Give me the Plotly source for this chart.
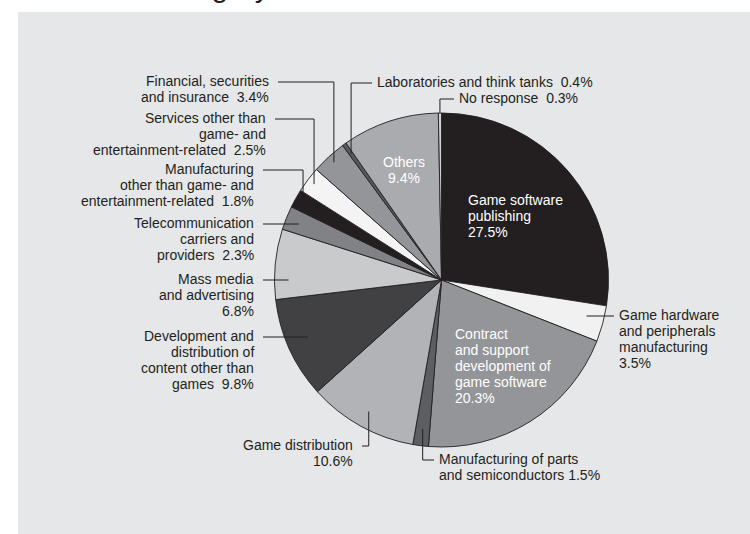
import math
import plotly.graph_objects as go

# Survey respondents by business category (share of respondents, %)
categories = [
    "Game software publishing",
    "Game hardware and peripherals manufacturing",
    "Contract and support development of game software",
    "Manufacturing of parts and semiconductors",
    "Game distribution",
    "Development and distribution of content other than games",
    "Mass media and advertising",
    "Telecommunication carriers and providers",
    "Manufacturing other than game- and entertainment-related",
    "Services other than game- and entertainment-related",
    "Financial, securities and insurance",
    "Laboratories and think tanks",
    "Others",
    "No response",
]
shares = [27.5, 3.5, 20.3, 1.5, 10.6, 9.8, 6.8, 2.3, 1.8, 2.5, 3.4, 0.4, 9.4, 0.3]
slice_colors = [
    "#231f20", "#f1f1f2", "#939598", "#5d5e61", "#b1b3b6", "#414042", "#c9cacc",
    "#808285", "#231f20", "#f4f4f5", "#939598", "#58595b", "#a9abae", "#d1d3d4",
]
# Label text per slice; "{}" receives the share
label_lines = [
    ["Game software", "publishing", "{}%"],
    ["Game hardware", "and peripherals", "manufacturing", "{}%"],
    ["Contract", "and support", "development of", "game software", "{}%"],
    ["Manufacturing of parts", "and semiconductors {}%"],
    ["Game distribution", "{}%"],
    ["Development and", "distribution of", "content other than", "games\u00a0 {}%"],
    ["Mass media", "and advertising", "{}%"],
    ["Telecommunication", "carriers and", "providers\u00a0 {}%"],
    ["Manufacturing", "other than game- and", "entertainment-related\u00a0 {}%"],
    ["Services other than", "game- and", "entertainment-related\u00a0 {}%"],
    ["Financial, securities", "and insurance\u00a0 {}%"],
    ["Laboratories and think tanks\u00a0 {}%"],
    ["Others", "{}%"],
    ["No response\u00a0 {}%"],
]

W, H = 750, 534
CX, CY, R = 441.5, 280.0, 167.0
INK = "#231f20"
FONT = "Liberation Sans, Arial, sans-serif"
LINE_H = 16.0

# placement: (x, y of first line, anchor, placement kind, leader style, leader radius fraction)
placement = [
    (466, 200, "left", "inside", None, None),
    (617, 315, "left", "outside", "h", 0.90),
    (453, 334, "left", "inside", None, None),
    (437, 459, "left", "outside", "v", 0.90),
    (355, 445, "right", "outside", "v", 0.90),
    (256, 336, "right", "outside", "h", 0.88),
    (256, 279, "right", "outside", "h", 0.92),
    (256, 223, "right", "outside", "h", 0.92),
    (256, 169, "right", "outside", "v", 0.95),
    (268, 118, "right", "outside", "v", 0.955),
    (271, 81, "right", "outside", "v", 0.955),
    (375, 82, "left", "outside", "v", 0.93),
    (404, 162, "center", "inside", None, None),
    (457, 98, "left", "outside", "v", 1.0),
]


def px(x):
    return x / W


def py(y):
    return 1 - y / H


fig = go.Figure(
    go.Pie(
        labels=categories,
        values=shares,
        sort=False,
        direction="clockwise",
        rotation=0,
        marker=dict(colors=slice_colors, line=dict(color=INK, width=0.9)),
        textinfo="none",
        hoverinfo="label+percent",
        showlegend=False,
        domain=dict(x=[px(CX - R), px(CX + R)], y=[py(CY + R), py(CY - R)]),
    )
)

annotations = []
shapes = [
    dict(type="rect", xref="paper", yref="paper", x0=px(18), x1=1, y0=0, y1=py(12),
         fillcolor="#e6e7e8", line=dict(width=0), layer="below"),
]

total = sum(shares)
start = 0.0
for i, v in enumerate(shares):
    frac = v / total
    mid = (start + frac / 2) * 2 * math.pi
    start += frac
    x, y, anchor, kind, style, rf = placement[i]
    color = "#ffffff" if kind == "inside" else INK
    for k, line in enumerate(label_lines[i]):
        annotations.append(dict(
            x=px(x), y=py(y + k * LINE_H), xref="paper", yref="paper",
            text=line.format(v), showarrow=False, xanchor=anchor, yanchor="middle",
            font=dict(family=FONT, size=14, color=color),
        ))
    if kind != "outside":
        continue
    # leader line from inside the slice to the label
    ex = CX + rf * R * math.sin(mid)
    ey = CY - rf * R * math.cos(mid)
    ly = y + 1
    tx = x + 7 if anchor == "right" else x - 3
    if style == "h":
        pts = [(ex, ly), (tx, ly)]
    else:
        pts = [(ex, ey), (ex, ly), (tx, ly)]
    for (a, b), (c, d) in zip(pts[:-1], pts[1:]):
        shapes.append(dict(type="line", xref="paper", yref="paper",
                           x0=px(a), y0=py(b), x1=px(c), y1=py(d),
                           line=dict(color=INK, width=1)))

# title line sitting above the visible area
annotations.append(dict(
    x=px(272), y=1, xref="paper", yref="paper", text="Business Category",
    showarrow=False, xanchor="right", yanchor="bottom", yshift=-5,
    font=dict(family=FONT, size=30, color=INK),
))

fig.update_layout(
    width=W, height=H, margin=dict(l=0, r=0, t=0, b=0),
    paper_bgcolor="#ffffff", plot_bgcolor="#ffffff",
    annotations=annotations, shapes=shapes,
)

fig.write_html("out.html")
